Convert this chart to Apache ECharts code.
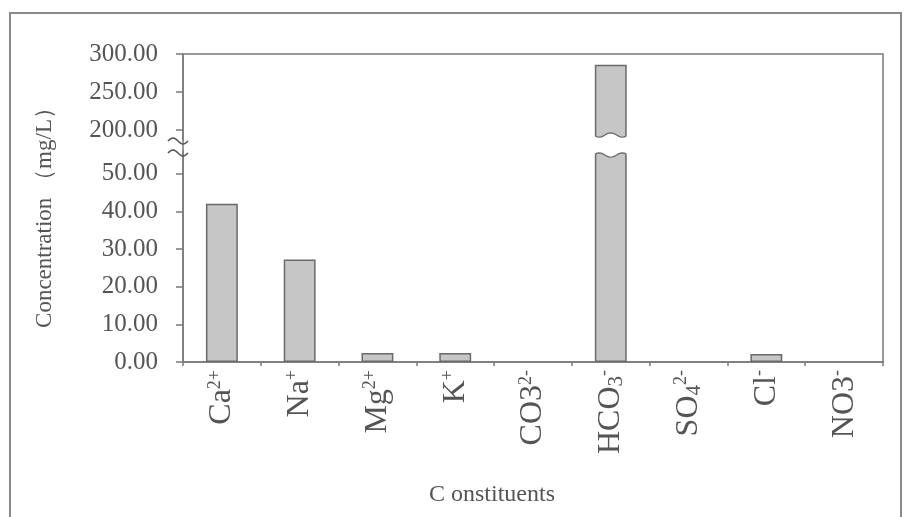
<!DOCTYPE html>
<html>
<head>
<meta charset="utf-8">
<script src="https://cdn.jsdelivr.net/npm/echarts@6/dist/echarts.min.js"></script>
<style>
html,body{margin:0;padding:0;background:#fff;}
#chart{width:904px;height:517px;}
</style>
</head>
<body>
<div id="chart"></div>
<script>
// ---- data ----
const categories = ['Ca2+', 'Na+', 'Mg2+', 'K+', 'CO32-', 'HCO3-', 'SO42-', 'Cl-', 'NO3-'];
const values = [42.0, 27.2, 2.4, 2.4, 0, 286, 0, 2.1, 0];
const tickLabels = ['Ca{sup|2+}', 'Na{sup|+}', 'Mg{sup|2+}', 'K{sup|+}', 'CO3{sup|2-}',
  'HCO{sub|3}{sup|-}', 'SO{sub|4}{sup|2-}', 'Cl{sup|-}', 'NO3{sup|-}'];
const lowerTicks = [0, 10, 20, 30, 40, 50];
const upperTicks = [200, 250, 300];
const lowerRange = [0, 56];
const upperRange = [187, 300];
const yTitle = 'Concentration （mg/L）';
const xTitle = 'C onstituents';

// ---- style ----
const FONT = "'Liberation Serif','Times New Roman',serif";
const TXT = '#555';
const AX = '#7a7a7a';
const BAR_FILL = '#c6c6c6';
const BAR_EDGE = '#6a6a6a';
const BAR_W = '41%';

const chart = echarts.init(document.getElementById('chart'), null, {renderer: 'canvas'});

function wavePts(x0, x1, y, amp, n, periods) {
  const pts = [];
  for (let k = 0; k <= n; k++) {
    const t = k / n;
    pts.push([x0 + (x1 - x0) * t, y + amp * Math.sin(t * Math.PI * 2 * periods)]);
  }
  return pts;
}

function capRender(isUpper) {
  return function (params, api) {
    const idx = api.value(0);
    const cs = params.coordSys;
    const center = api.coord([idx, isUpper ? upperRange[0] : lowerRange[1]]);
    const w = api.size([1, 0])[0] * 0.41;
    const x0 = center[0] - w / 2 - 1.5, x1 = center[0] + w / 2 + 1.5;
    let poly, wave;
    if (isUpper) {
      const yb = cs.y + cs.height;
      wave = wavePts(x0, x1, yb - 5, 2.2, 18, 1.5);
      poly = wave.concat([[x1, yb + 2], [x0, yb + 2]]);
    } else {
      const yt = cs.y;
      wave = wavePts(x0, x1, yt + 4, -2.2, 18, 1.5);
      poly = wave.concat([[x1, yt - 2], [x0, yt - 2]]);
    }
    return {
      type: 'group',
      children: [
        {type: 'polygon', shape: {points: poly}, style: {fill: '#fff', stroke: null}},
        {type: 'polyline', shape: {points: wave.slice(1, -1)}, style: {stroke: BAR_EDGE, lineWidth: 1.3, fill: null}}
      ]
    };
  };
}

const brokenData = values.map((v, i) => v > lowerRange[1] ? [i, v] : null).filter(Boolean);

const yLabel = {
  fontFamily: FONT, fontSize: 25, color: TXT, margin: 25,
  formatter: v => Number(v).toFixed(2)
};

const option = {
  backgroundColor: '#fff',
  animation: false,
  grid: [
    {left: 183, right: 21, top: 54, height: 86, containLabel: false},
    {left: 183, right: 21, top: 151, bottom: 155, containLabel: false}
  ],
  xAxis: [
    {type: 'category', gridIndex: 0, data: categories, show: false},
    {
      type: 'category', gridIndex: 1, data: categories,
      axisLine: {lineStyle: {color: AX, width: 1.5}},
      axisTick: {show: true, length: 4, lineStyle: {color: AX, width: 1.5}},
      axisLabel: {
        rotate: 90, margin: 8, interval: 0,
        fontFamily: FONT, fontSize: 32, color: TXT,
        formatter: (v, i) => tickLabels[i],
        rich: {
          sup: {fontFamily: FONT, fontSize: 18, color: TXT, verticalAlign: 'top'},
          sub: {fontFamily: FONT, fontSize: 21, color: TXT, verticalAlign: 'bottom'}
        }
      }
    }
  ],
  yAxis: [
    {
      type: 'value', gridIndex: 0, min: upperRange[0], max: upperRange[1],
      splitLine: {show: false},
      axisLine: {show: true, lineStyle: {color: AX, width: 1.5}},
      axisTick: {show: true, length: 7, customValues: upperTicks, lineStyle: {color: AX, width: 1.5}},
      axisLabel: Object.assign({customValues: upperTicks}, yLabel)
    },
    {
      type: 'value', gridIndex: 1, min: lowerRange[0], max: lowerRange[1],
      splitLine: {show: false},
      axisLine: {show: true, lineStyle: {color: AX, width: 1.5}},
      axisTick: {show: true, length: 7, customValues: lowerTicks, lineStyle: {color: AX, width: 1.5}},
      axisLabel: Object.assign({customValues: lowerTicks}, yLabel)
    }
  ],
  series: [
    {
      type: 'bar', xAxisIndex: 0, yAxisIndex: 0, barWidth: BAR_W,
      data: values.map(v => v > upperRange[0] ? v : '-'),
      itemStyle: {color: BAR_FILL, borderColor: BAR_EDGE, borderWidth: 1.5},
      clip: true, silent: true
    },
    {
      type: 'bar', xAxisIndex: 1, yAxisIndex: 1, barWidth: BAR_W,
      data: values.map(v => v > 0 ? v : '-'),
      itemStyle: {color: BAR_FILL, borderColor: BAR_EDGE, borderWidth: 1.5},
      clip: true, silent: true
    },
    {
      type: 'custom', xAxisIndex: 0, yAxisIndex: 0, data: brokenData,
      renderItem: capRender(true), silent: true, z: 5
    },
    {
      type: 'custom', xAxisIndex: 1, yAxisIndex: 1, data: brokenData,
      renderItem: capRender(false), silent: true, z: 5
    }
  ],
  graphic: [
    // outer chart border
    {type: 'rect', shape: {x: 10, y: 13, width: 891, height: 540}, style: {fill: null, stroke: '#8a8a8a', lineWidth: 2}, z: 0},
    // plot frame
    {type: 'rect', shape: {x: 183, y: 54, width: 700, height: 308}, style: {fill: null, stroke: AX, lineWidth: 1.5}, z: 1},
    // axis break squiggles
    {type: 'polyline', shape: {points: wavePts(168, 188, 141, -3, 16, 1)}, style: {stroke: '#555', lineWidth: 1.6, fill: null}, z: 10},
    {type: 'polyline', shape: {points: wavePts(168, 188, 153, -3, 16, 1)}, style: {stroke: '#555', lineWidth: 1.6, fill: null}, z: 10},
    // titles
    {type: 'text', x: 45, y: 212, rotation: Math.PI / 2,
      style: {text: yTitle, fontFamily: FONT, fontSize: 23, fill: TXT, align: 'center', verticalAlign: 'middle'}, z: 10},
    {type: 'text', x: 492, y: 495,
      style: {text: xTitle, fontFamily: FONT, fontSize: 24, fill: TXT, align: 'center', verticalAlign: 'middle'}, z: 10}
  ]
};
chart.setOption(option);
</script>
</body>
</html>
